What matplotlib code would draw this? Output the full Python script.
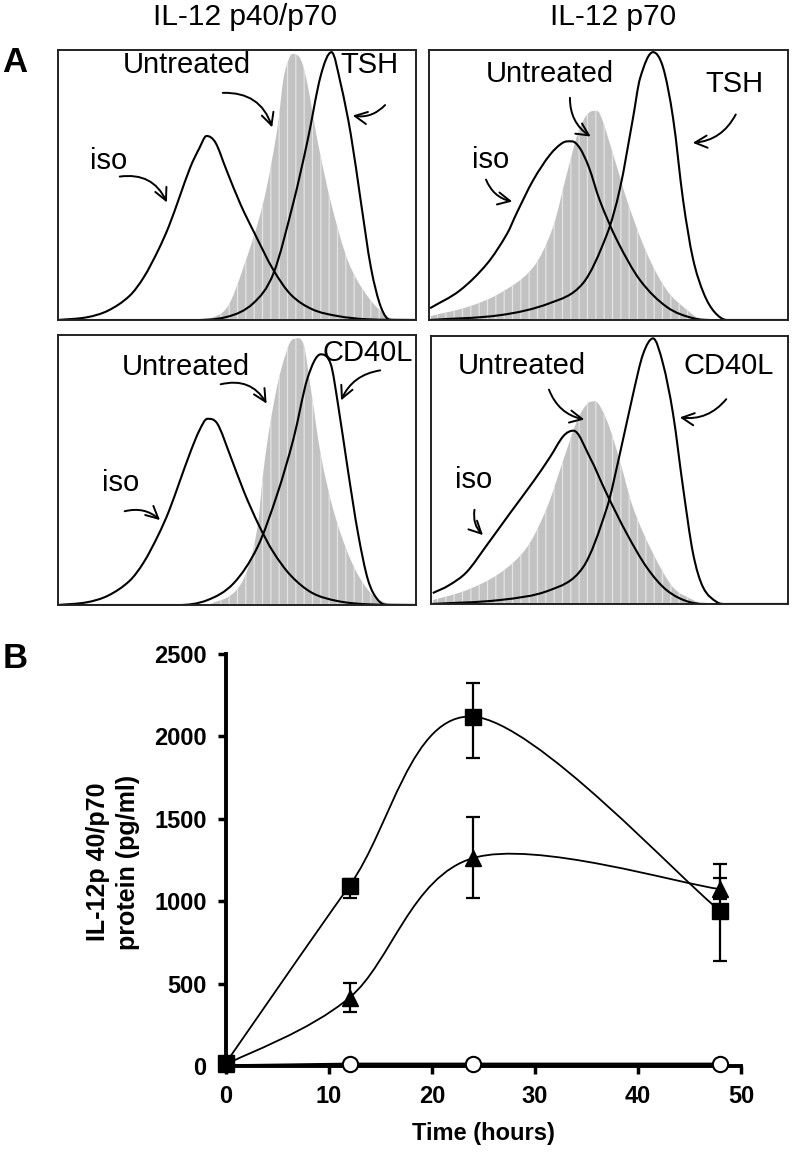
import matplotlib
matplotlib.use("Agg")
import matplotlib.pyplot as plt
from matplotlib.path import Path
from matplotlib.patches import PathPatch, FancyArrowPatch

plt.rcParams['font.family'] = ['Liberation Sans', 'DejaVu Sans']
plt.rcParams['hatch.linewidth'] = 0.9

# ---- panel A: flow histograms (x = fluorescence 0..100, y = % of max) ----
tl_iso_x = [0, 8, 14, 20, 24, 28, 31, 34, 37, 39.5, 41.5, 44, 47, 51, 55, 60, 65, 71, 78, 86, 100]
tl_iso_y = [0, 1, 3.5, 9, 16, 26, 35, 46, 57, 64, 68.5, 66, 56, 43, 32, 19, 9.5, 4, 1.5, 0.3, 0]
tl_unt_x = [41.7, 47.3, 51.8, 57.4, 61.3, 63, 64.6, 65.5, 67.8, 69.7, 72.5, 76.2, 81, 86.6, 92, 95]
tl_unt_y = [0, 4.8, 19.6, 44, 71.5, 90, 97.5, 99, 97, 87.7, 66.7, 44, 22, 8.6, 1.3, 0]
tl_trt_x = [0, 37, 47.3, 54.6, 60.2, 65.8, 69.7, 73.4, 76.4, 79, 81.8, 84.6, 87.4, 90.2, 92.9, 100]
tl_trt_y = [0, 0, 1.2, 6.3, 17.4, 44, 66.7, 91, 99.7, 87.7, 69, 44, 19.6, 4.8, 0, 0]

tr_iso_x = [0.3, 8.6, 16.2, 21.7, 24.5, 29, 33.7, 37.3, 39.8, 42, 44.5, 47.6, 52.4, 58.8, 66.3, 73.5, 80, 100]
tr_iso_y = [4.4, 11, 21, 32, 40, 52, 61.5, 66, 66.5, 64, 57, 44.4, 29.6, 14.8, 4.8, 0.7, 0, 0]
tr_unt_x = [0.5, 10.6, 19.8, 29, 34.5, 38.4, 42, 45.7, 47.6, 51.3, 55.2, 60.7, 66.3, 71.9, 75.6]
tr_unt_y = [1.5, 4.8, 10, 19.6, 34.4, 54.4, 71.5, 77.8, 76.7, 61.7, 44.4, 24.8, 11, 3.7, 0]
tr_trt_x = [0, 19.8, 33.7, 42.9, 49.6, 53.2, 56.8, 58.8, 62.4, 65.2, 68, 70.8, 73.5, 76.5, 79.5, 83, 100]
tr_trt_y = [0, 1.8, 6.3, 13.7, 32, 49, 75, 90, 99.7, 94, 75, 44.4, 23, 10, 3, 0, 0]

bl_iso_x = [0, 8, 14, 20, 24, 28, 31, 34, 37, 39.5, 41.7, 44.5, 48, 52, 56, 60, 65, 71, 78, 86, 100]
bl_iso_y = [0, 1, 3.5, 9, 16, 26, 35, 46, 57, 65, 69.3, 67.5, 56, 42, 30, 20, 11, 4.5, 1.5, 0.3, 0]
bl_unt_x = [41.7, 49, 52.9, 55.7, 57.4, 59.4, 62.2, 65.8, 68.6, 70.6, 73.4, 77, 81.8, 86.6, 91, 95]
bl_unt_y = [0, 4.4, 13, 28.9, 50, 68.5, 87, 99, 97, 80.7, 56, 35, 16.7, 5.6, 1.1, 0]
bl_trt_x = [0, 33.7, 41.7, 49, 55.7, 61.3, 65.8, 69.7, 73.4, 76.2, 78.2, 81, 83.8, 86.6, 89.4, 92.2, 100]
bl_trt_y = [0, 0, 1.8, 8, 21.5, 41.5, 62, 84.4, 93.3, 89.6, 74.8, 50, 26.7, 9.3, 1.8, 0, 0]

br_iso_x = [0.5, 5, 10, 15.6, 22.1, 28.7, 33.3, 37.1, 39.9, 44.5, 49.2, 54.8, 60.4, 66, 72.5, 80, 100]
br_iso_y = [4.1, 7, 12, 22, 34, 46, 55, 63, 65, 55, 41.4, 26.5, 13.8, 5.2, 0.7, 0, 0]
br_unt_x = [0.6, 10, 19.3, 26.9, 32.5, 37, 40.9, 43.7, 45.9, 49.3, 52.9, 56.6, 62.2, 67.8, 73.4, 76]
br_unt_y = [1.5, 5.2, 11.6, 21.3, 36.2, 53.7, 68.7, 75, 76, 68.7, 53.7, 36.2, 19, 6.3, 1.5, 0]
br_trt_x = [0, 19.3, 33.3, 42.6, 49.3, 52.9, 56.6, 59.4, 62.2, 65, 67.8, 70.6, 73.4, 76.2, 80.1, 83, 100]
br_trt_y = [0, 1.5, 5.2, 13.8, 36.2, 56.3, 78.7, 93.7, 99.6, 90, 71.3, 43.7, 19, 6.3, 0.7, 0, 0]

col_titles = ["IL-12 p40/p70", "IL-12 p70"]

# ---- panel B: ELISA time course ----
hours = [0, 12, 24, 48]
sq_vals = [20, 1095, 2120, 940]
sq_err_lo = [0, 75, 250, 305]
sq_err_hi = [0, 40, 205, 200]
tri_vals = [10, 415, 1262, 1073]
tri_err_lo = [0, 90, 240, 60]
tri_err_hi = [0, 90, 250, 150]
circ_vals = [5, 15, 15, 15]
yticks = [0, 500, 1000, 1500, 2000, 2500]
xticks = [0, 10, 20, 30, 40, 50]

W, H = 792, 1152


def box(x0, y0, x1, y1):
    return [x0 / W, 1 - y1 / H, (x1 - x0) / W, (y1 - y0) / H]


def fp(x, y):
    return (x / W, 1 - y / H)


def hermite_path(xs, ys, close=False):
    # smooth y(x) curve through the points, flat tangent at peaks/valleys
    n = len(xs)
    m = []
    for i in range(n):
        if i == 0:
            m.append((ys[1] - ys[0]) / (xs[1] - xs[0]))
        elif i == n - 1:
            m.append((ys[-1] - ys[-2]) / (xs[-1] - xs[-2]))
        elif (ys[i] - ys[i - 1]) * (ys[i + 1] - ys[i]) <= 0:
            m.append(0.0)
        else:
            m.append((ys[i + 1] - ys[i - 1]) / (xs[i + 1] - xs[i - 1]))
    verts = [(xs[0], ys[0])]
    codes = [Path.MOVETO]
    for i in range(n - 1):
        d = (xs[i + 1] - xs[i]) / 3
        verts += [(xs[i] + d, ys[i] + m[i] * d), (xs[i + 1] - d, ys[i + 1] - m[i + 1] * d),
                  (xs[i + 1], ys[i + 1])]
        codes += [Path.CURVE4] * 3
    if close:
        verts = [(xs[0], 0)] + verts + [(xs[-1], 0), (xs[0], 0)]
        codes = [Path.MOVETO, Path.LINETO] + codes[1:] + [Path.LINETO, Path.CLOSEPOLY]
    return Path(verts, codes)


def smooth_path(xs, ys):
    # excel-like smoothed line (catmull-rom as cubic bezier)
    pts = list(zip(xs, ys))
    n = len(pts)
    verts = [pts[0]]
    codes = [Path.MOVETO]
    for i in range(n - 1):
        p0 = pts[i - 1] if i > 0 else pts[i]
        p1, p2 = pts[i], pts[i + 1]
        p3 = pts[i + 2] if i + 2 < n else pts[i + 1]
        c1 = (p1[0] + (p2[0] - p0[0]) / 6, p1[1] + (p2[1] - p0[1]) / 6)
        c2 = (p2[0] - (p3[0] - p1[0]) / 6, p2[1] - (p3[1] - p1[1]) / 6)
        verts += [c1, c2, p2]
        codes += [Path.CURVE4] * 3
    return Path(verts, codes)


fig = plt.figure(figsize=(7.92, 11.52), dpi=100)

panels = [
    (box(58, 50, 416, 320), tl_iso_x, tl_iso_y, tl_unt_x, tl_unt_y, tl_trt_x, tl_trt_y),
    (box(429, 50, 788, 320), tr_iso_x, tr_iso_y, tr_unt_x, tr_unt_y, tr_trt_x, tr_trt_y),
    (box(58, 335, 416, 605), bl_iso_x, bl_iso_y, bl_unt_x, bl_unt_y, bl_trt_x, bl_trt_y),
    (box(431, 336, 788, 604), br_iso_x, br_iso_y, br_unt_x, br_unt_y, br_trt_x, br_trt_y),
]
for rect, ix, iy, ux, uy, tx, ty in panels:
    ax = fig.add_axes(rect)
    ax.add_patch(PathPatch(hermite_path(ux, uy, close=True), facecolor='#c2c2c2',
                           edgecolor='#e4e4e4', hatch='||', linewidth=0))
    ax.add_patch(PathPatch(hermite_path(ix, iy), fill=False, edgecolor='black', lw=1.5))
    ax.add_patch(PathPatch(hermite_path(tx, ty), fill=False, edgecolor='black', lw=1.5))
    ax.set_xlim(0, 100)
    ax.set_ylim(0, 100.5)
    ax.set_xticks([])
    ax.set_yticks([])
    for s in ax.spines.values():
        s.set_linewidth(1.4)
        s.set_color('#222222')

fig.text(*fp(245, 17), col_titles[0], fontsize=21.5, ha='center', va='center')
fig.text(*fp(613, 17), col_titles[1], fontsize=21.5, ha='center', va='center')
fig.text(*fp(15, 62), "A", fontsize=25, fontweight='bold', ha='center', va='center')
fig.text(*fp(15, 658), "B", fontsize=25, fontweight='bold', ha='center', va='center')

# labels inside the histograms
lab = dict(fontsize=21, va='center')
fig.text(*fp(187, 65), "Untreated", ha='center', **lab)
fig.text(*fp(340, 65), "TSH", ha='left', **lab)
fig.text(*fp(109, 161), "iso", ha='center', **lab)
fig.text(*fp(550, 74), "Untreated", ha='center', **lab)
fig.text(*fp(734, 84), "TSH", ha='center', **lab)
fig.text(*fp(491, 160), "iso", ha='center', **lab)
fig.text(*fp(186, 367), "Untreated", ha='center', **lab)
fig.text(*fp(323, 353), "CD40L", ha='left', **lab)
fig.text(*fp(121, 483), "iso", ha='center', **lab)
fig.text(*fp(522, 366), "Untreated", ha='center', **lab)
fig.text(*fp(729, 366), "CD40L", ha='center', **lab)
fig.text(*fp(474, 480), "iso", ha='center', **lab)

arrows = [
    ((220, 93), (273, 130), -0.4),
    ((387, 103), (350, 115), -0.3),
    ((117, 177), (168, 205), -0.4),
    ((570, 95), (593, 138), 0.3),
    ((737, 112), (690, 143), -0.3),
    ((485, 177), (515, 202), 0.3),
    ((218, 385), (268, 406), -0.4),
    ((383, 370), (340, 403), 0.3),
    ((122, 512), (162, 522), -0.3),
    ((548, 387), (587, 420), 0.3),
    ((728, 397), (677, 417), -0.3),
    ((475, 507), (485, 537), 0.3),
]
for tail, head, rad in arrows:
    fig.add_artist(FancyArrowPatch(
        fp(*tail), fp(*head), transform=fig.transFigure,
        arrowstyle='->', connectionstyle=f'arc3,rad={rad}',
        mutation_scale=22, lw=1.4, color='black'))

# ---- panel B ----
axb = fig.add_axes(box(226, 654, 741, 1066))
axb.add_patch(PathPatch(smooth_path(hours, sq_vals), fill=False, edgecolor='black', lw=1.3, clip_on=False))
axb.add_patch(PathPatch(smooth_path(hours, tri_vals), fill=False, edgecolor='black', lw=1.3, clip_on=False))
axb.plot(hours, circ_vals, color='black', lw=1.3, clip_on=False)
axb.errorbar(hours, sq_vals, yerr=[sq_err_lo, sq_err_hi], fmt='none', ecolor='black',
             elinewidth=1.6, capsize=5, capthick=1.6, clip_on=False)
axb.errorbar(hours, tri_vals, yerr=[tri_err_lo, tri_err_hi], fmt='none', ecolor='black',
             elinewidth=1.6, capsize=5, capthick=1.6, clip_on=False)
axb.plot(hours, sq_vals, 's', color='black', ms=12, clip_on=False, zorder=5)
axb.plot(hours, tri_vals, '^', color='black', ms=12, clip_on=False, zorder=5)
axb.plot(hours[1:], circ_vals[1:], 'o', mfc='white', mec='black', mew=1.5, ms=11,
         clip_on=False, zorder=6)

axb.set_xlim(0, 50)
axb.set_ylim(0, 2500)
axb.spines['top'].set_visible(False)
axb.spines['right'].set_visible(False)
axb.spines['left'].set_linewidth(2.8)
axb.spines['bottom'].set_linewidth(2.8)
axb.set_xticks(xticks, [str(t) for t in xticks], fontweight='bold')
axb.set_yticks(yticks, [str(t) for t in yticks], fontweight='bold')
axb.tick_params(direction='out', length=6, width=2.5, labelsize=17, pad=8)
axb.set_xlabel("Time (hours)", fontsize=17, fontweight='bold', labelpad=10)
fig.text(*fp(113, 862), "IL-12p 40/p70\nprotein (pg/ml)", rotation=90, fontsize=18,
         fontweight='bold', ha='center', va='center', multialignment='center',
         linespacing=1.3)

fig.savefig("out.png", dpi=100)
